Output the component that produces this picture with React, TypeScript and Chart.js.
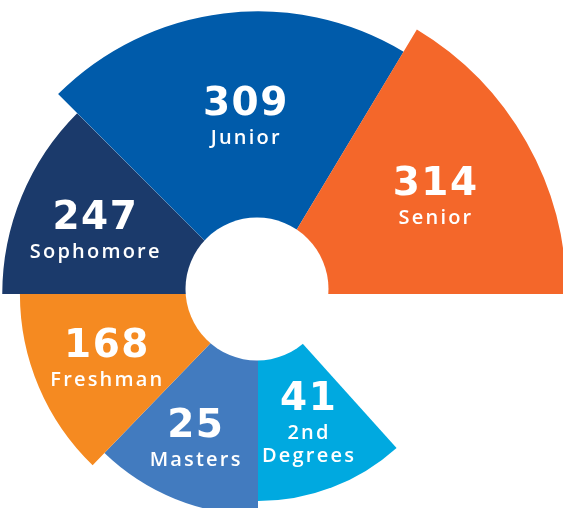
import React, { useEffect, useRef } from 'react';
import { Chart, registerables } from 'chart.js';

Chart.register(...registerables);

// Data (clockwise, starting at the lower-right segment)
const categories = ['2nd\nDegrees', 'Masters', 'Freshman', 'Sophomore', 'Junior', 'Senior'];
const values = [41, 25, 168, 247, 309, 314];
// Visual extent of each wedge as drawn in the infographic
const arcReach = [66.8, 71.3, 76.8, 82.5, 91.2, 99.5];
const arcAngles = [42, 44, 46, 45, 76, 59];
const colors = ['#00A9E0', '#427BBF', '#F58A21', '#1B3A6B', '#005BAA', '#F4672A'];

// label placement: angle nudge (deg), radial fraction of wedge
const labelAngleNudge = [-5, 4, 5, 3.4, 3.2, -3];
const labelRadial = [0.55, 0.65, 0.67, 0.71, 0.685, 0.68];

const SIZE = 620;

const centerPlugin = {
  id: 'centerAndLabels',
  afterDatasetsDraw(chart: any) {
    const ctx = chart.ctx;
    const scale = chart.scales.r;
    const cx = scale.xCenter;
    const cy = scale.yCenter;
    ctx.save();
    ctx.fillStyle = '#ffffff';
    ctx.beginPath();
    ctx.arc(cx - 1, cy - 5, 71.5, 0, Math.PI * 2);
    ctx.fill();

    const meta = chart.getDatasetMeta(0);
    meta.data.forEach((arc: any, i: number) => {
      const mid = (arc.startAngle + arc.endAngle) / 2 + (labelAngleNudge[i] * Math.PI) / 180;
      const r = arc.outerRadius * labelRadial[i];
      const x = cx + r * Math.cos(mid);
      const y = cy + r * Math.sin(mid);
      ctx.fillStyle = '#ffffff';
      ctx.textAlign = 'center';
      ctx.textBaseline = 'alphabetic';
      ctx.font = 'bold 39px "DejaVu Sans"';
      (ctx as any).letterSpacing = '1.5px';
      ctx.fillText(String(values[i]), x + 0.75, y + 14);
      ctx.font = '600 20px "Open Sans"';
      (ctx as any).letterSpacing = '2.2px';
      const lines = categories[i].split('\n');
      lines.forEach((line, j) => {
        ctx.fillText(line, x + 1.1, y + 43 + j * 23);
      });
    });
    ctx.restore();
  },
};

export default function App() {
  const ref = useRef<HTMLCanvasElement>(null);
  useEffect(() => {
    if (!ref.current) return;
    const chart = new Chart(ref.current, {
      type: 'polarArea',
      data: {
        labels: categories,
        datasets: [
          {
            data: arcReach,
            backgroundColor: colors,
            borderWidth: 0,
            angle: (c: any) => arcAngles[c.dataIndex],
          } as any,
        ],
      },
      options: {
        responsive: false,
        animation: false,
        layout: { padding: 0 },
        plugins: { legend: { display: false }, tooltip: { enabled: false } },
        scales: {
          r: {
            display: false,
            min: 0,
            max: 100,
            startAngle: 138,
          },
        },
      } as any,
      plugins: [centerPlugin],
    });
    return () => chart.destroy();
  }, []);

  return (
    <div
      style={{
        position: 'fixed',
        left: 0,
        top: 0,
        width: 563,
        height: 508,
        overflow: 'hidden',
        background: '#ffffff',
      }}
    >
      <canvas
        ref={ref}
        width={SIZE}
        height={SIZE}
        style={{ position: 'absolute', left: -52, top: -16, width: SIZE, height: SIZE }}
      />
    </div>
  );
}
